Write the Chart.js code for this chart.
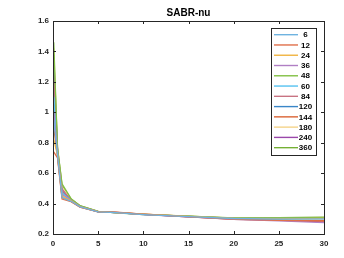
<!DOCTYPE html>
<html><head><meta charset="utf-8">
<script src="https://cdn.jsdelivr.net/npm/chart.js@4"></script>
<style>html,body{margin:0;padding:0;background:#fff;}#wrap{width:344px;height:258px;}</style>
</head><body><div id="wrap"><canvas id="c" width="344" height="258"></canvas></div>
<script>
const title = "SABR-nu";
const tenors = [0.083, 0.5, 1, 2, 3, 5, 7, 10, 15, 20, 25, 30];
const seriesLabels = ["6","12","24","36","48","60","84","120","144","180","240","360"];
const s6   = [0.95, 0.72, 0.44, 0.415, 0.378, 0.346, 0.340, 0.328, 0.314, 0.302, 0.298, 0.300];
const s12  = [0.74, 0.70, 0.43, 0.412, 0.376, 0.345, 0.342, 0.329, 0.313, 0.298, 0.290, 0.285];
const s24  = [0.82, 0.72, 0.45, 0.418, 0.379, 0.347, 0.341, 0.330, 0.316, 0.303, 0.300, 0.302];
const s36  = [1.00, 0.73, 0.46, 0.420, 0.380, 0.346, 0.340, 0.327, 0.312, 0.296, 0.286, 0.275];
const s48  = [1.46, 0.76, 0.53, 0.432, 0.386, 0.349, 0.339, 0.328, 0.318, 0.305, 0.306, 0.308];
const s60  = [1.10, 0.74, 0.47, 0.421, 0.381, 0.347, 0.341, 0.329, 0.315, 0.303, 0.302, 0.305];
const s84  = [1.25, 0.75, 0.49, 0.425, 0.382, 0.347, 0.342, 0.330, 0.316, 0.304, 0.303, 0.306];
const s120 = [1.30, 0.75, 0.48, 0.424, 0.382, 0.346, 0.340, 0.329, 0.315, 0.302, 0.300, 0.301];
const s144 = [0.90, 0.71, 0.44, 0.414, 0.377, 0.345, 0.343, 0.331, 0.314, 0.297, 0.289, 0.288];
const s180 = [1.42, 0.76, 0.51, 0.428, 0.384, 0.348, 0.341, 0.330, 0.317, 0.305, 0.304, 0.304];
const s240 = [1.05, 0.74, 0.50, 0.426, 0.383, 0.347, 0.341, 0.329, 0.313, 0.299, 0.291, 0.280];
const s360 = [1.38, 0.77, 0.52, 0.430, 0.385, 0.349, 0.340, 0.329, 0.318, 0.306, 0.307, 0.310];
const yTicks = [0.2, 0.4, 0.6, 0.8, 1, 1.2, 1.4, 1.6];
const xTicks = [0, 5, 10, 15, 20, 25, 30];

const allSeries = [s6,s12,s24,s36,s48,s60,s84,s120,s144,s180,s240,s360];
const colors = ["#6fb3e0","#e0704a","#f0b440","#b07fc4","#82c044","#55c2f0","#c87382","#3a86c8","#da6434","#f4d48a","#9a48aa","#74b034"];
const datasets = allSeries.map((s,i)=>({
  label: seriesLabels[i],
  data: tenors.map((x,j)=>({x:x,y:s[j]})),
  borderColor: colors[i], backgroundColor: colors[i],
  borderWidth: 1.3, pointRadius: 0, tension: 0, fill:false
}));

const FONT = "'Liberation Sans', Arial, sans-serif";
const framePlugin = {
  id:'frame',
  afterDraw(chart){
    const ctx = chart.ctx, a = chart.chartArea;
    const xs = chart.scales.x, ys = chart.scales.y;
    ctx.save();
    ctx.strokeStyle = '#262626'; ctx.lineWidth = 1;
    ctx.strokeRect(Math.round(a.left)+0.5, Math.round(a.top)+0.5, Math.round(a.right-a.left), Math.round(a.bottom-a.top));
    const tl = 3;
    ctx.beginPath();
    xTicks.forEach(v=>{ const p=Math.round(xs.getPixelForValue(v))+0.5;
      ctx.moveTo(p,a.bottom); ctx.lineTo(p,a.bottom-tl);
      ctx.moveTo(p,a.top); ctx.lineTo(p,a.top+tl); });
    yTicks.forEach(v=>{ const p=Math.round(ys.getPixelForValue(v))+0.5;
      ctx.moveTo(a.left,p); ctx.lineTo(a.left+tl,p);
      ctx.moveTo(a.right,p); ctx.lineTo(a.right-tl,p); });
    ctx.stroke();
    // title
    ctx.fillStyle = '#000'; ctx.font = "bold 10px " + FONT;
    ctx.textAlign='center'; ctx.textBaseline='middle';
    ctx.fillText(title, (a.left+a.right)/2, 13);
    // legend
    const bx=271, by=28, bw=45, bh=127;
    ctx.fillStyle='#fff'; ctx.fillRect(bx,by,bw,bh);
    ctx.strokeStyle='#262626'; ctx.strokeRect(bx+0.5,by+0.5,bw,bh);
    ctx.font = "bold 8px " + FONT; ctx.textAlign='center';
    chart.data.datasets.forEach((d,i)=>{
      const y = 34.7 + i*10.27;
      ctx.strokeStyle=d.borderColor; ctx.lineWidth=1.4;
      ctx.beginPath(); ctx.moveTo(274,y); ctx.lineTo(298,y); ctx.stroke();
      ctx.fillStyle='#000'; ctx.fillText(d.label, 305.5, y+0.5);
    });
    ctx.restore();
  }
};

new Chart(document.getElementById('c'), {
  type:'line',
  data:{datasets},
  options:{
    responsive:false, animation:false, devicePixelRatio:1,
    layout:{padding:{left:0,right:20,top:21,bottom:0}},
    plugins:{legend:{display:false}, title:{display:false}, tooltip:{enabled:false}},
    scales:{
      x:{type:'linear', min:0, max:30,
        grid:{display:false, drawTicks:false}, border:{display:false},
        afterBuildTicks(s){ s.ticks = xTicks.map(v=>({value:v})); },
        afterFit(s){ s.height = 24; },
        ticks:{font:{family:FONT,size:8,weight:'bold'}, color:'#262626', padding:5, maxRotation:0}
      },
      y:{type:'linear', min:0.2, max:1.6,
        grid:{display:false, drawTicks:false}, border:{display:false},
        afterBuildTicks(s){ s.ticks = yTicks.map(v=>({value:v})); },
        afterFit(s){ s.width = 53; },
        ticks:{font:{family:FONT,size:8,weight:'bold'}, color:'#262626', padding:4,
          callback:(v)=>String(Math.round(v*10)/10)}
      }
    }
  },
  plugins:[framePlugin]
});
</script></body></html>
